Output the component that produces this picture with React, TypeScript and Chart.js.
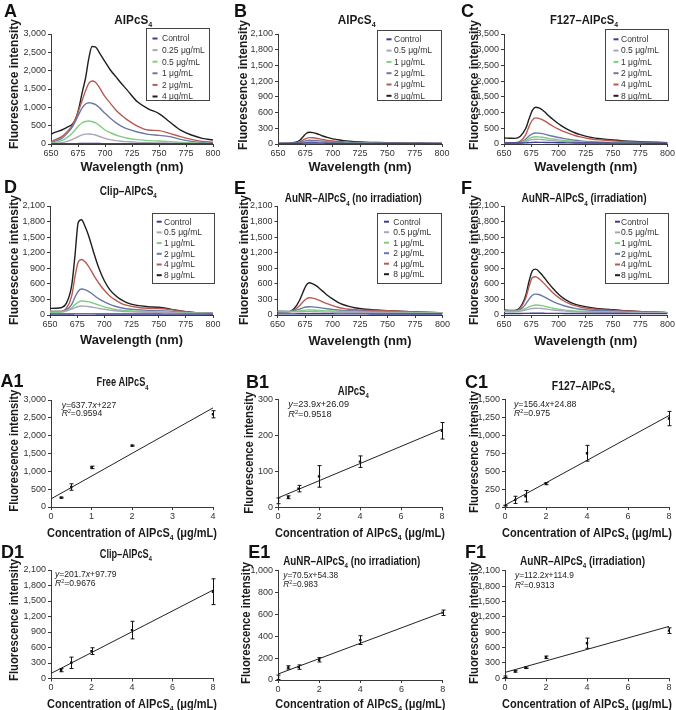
import React, { useEffect, useRef } from 'react';
import { Chart, registerables } from 'chart.js';

Chart.register(...registerables);

const PAGE_W = 676;
const PAGE_H = 710;
const FONT = '"Liberation Sans", Arial, Helvetica, sans-serif';
const NARROW = '"Liberation Sans Narrow", "Arial Narrow", "Liberation Sans", Arial, sans-serif';

// ---------------- Spectra (A–F) ----------------
const WAVELENGTH = [650, 655, 660, 665, 670, 673, 676, 679, 682, 685, 688, 691, 695, 700, 705, 710, 715, 720, 730, 740, 750, 760, 770, 780, 790, 800];

const LABELS_A = ['Control', '0.25 μg/mL', '0.5 μg/mL', '1 μg/mL', '2 μg/mL', '4 μg/mL'];
const LABELS_BF = ['Control', '0.5 μg/mL', '1 μg/mL', '2 μg/mL', '4 μg/mL', '8 μg/mL'];
const SERIES_COLORS = ['#3b3f8f', '#a9a5bb', '#7fcf7f', '#6b78a6', '#b95a50', '#1e1e1e'];

const A_CONTROL = [10, 10, 10, 10, 11, 11, 12, 12, 12, 12, 12, 12, 12, 11, 11, 11, 10, 10, 10, 10, 10, 10, 10, 10, 10, 10];
const A_025 = [9, 20, 36, 73, 127, 170, 215, 250, 268, 273, 262, 245, 205, 155, 118, 91, 75, 64, 45, 36, 30, 25, 20, 15, 10, 5];
const A_05 = [18, 50, 91, 182, 309, 410, 510, 580, 615, 627, 610, 580, 500, 382, 309, 245, 200, 164, 118, 91, 82, 64, 45, 27, 18, 9];
const A_1 = [36, 90, 155, 290, 473, 640, 830, 990, 1090, 1127, 1110, 1080, 985, 836, 700, 582, 490, 418, 327, 264, 236, 200, 127, 73, 36, 18];
const A_2 = [64, 130, 200, 336, 518, 700, 950, 1200, 1450, 1655, 1718, 1690, 1530, 1290, 1109, 927, 790, 672, 490, 382, 364, 290, 200, 127, 73, 45];
const A_4 = [273, 330, 382, 460, 545, 700, 1000, 1420, 1800, 2336, 2660, 2650, 2480, 2245, 2018, 1836, 1655, 1490, 1150, 960, 830, 600, 380, 245, 155, 110];

const B_CONTROL = [12, 12, 12, 13, 14, 16, 18, 19, 19, 18, 17, 16, 15, 14, 13, 13, 12, 12, 11, 11, 10, 10, 10, 9, 9, 9];
const B_05 = [6, 7, 8, 10, 14, 20, 27, 30, 29, 28, 26, 24, 22, 19, 17, 15, 14, 13, 11, 10, 9, 8, 8, 7, 7, 6];
const B_1 = [7, 8, 9, 12, 19, 29, 39, 44, 43, 41, 38, 34, 30, 26, 23, 20, 18, 16, 14, 12, 11, 10, 9, 8, 8, 7];
const B_2 = [8, 9, 10, 15, 27, 45, 63, 72, 70, 66, 60, 53, 45, 38, 32, 28, 24, 22, 18, 15, 13, 12, 11, 10, 9, 8];
const B_4 = [8, 10, 12, 20, 42, 75, 108, 122, 118, 110, 98, 85, 70, 57, 48, 40, 34, 30, 24, 20, 17, 15, 13, 11, 10, 9];
const B_8 = [10, 12, 15, 28, 72, 140, 205, 225, 218, 200, 178, 153, 125, 98, 80, 65, 54, 46, 35, 28, 23, 19, 16, 13, 11, 10];

const C_CONTROL = [30, 30, 30, 32, 37, 44, 50, 54, 53, 51, 49, 46, 43, 40, 38, 36, 34, 33, 31, 30, 29, 28, 27, 26, 25, 25];
const C_05 = [10, 10, 15, 32, 70, 112, 140, 150, 148, 142, 132, 119, 103, 87, 74, 62, 52, 45, 35, 28, 24, 20, 17, 15, 13, 12];
const C_1 = [15, 15, 22, 45, 105, 170, 215, 230, 226, 216, 200, 180, 157, 133, 112, 95, 80, 68, 52, 42, 36, 30, 26, 22, 20, 18];
const C_2 = [20, 20, 28, 60, 155, 255, 325, 350, 345, 330, 307, 278, 245, 207, 175, 145, 120, 100, 75, 60, 50, 42, 36, 32, 28, 25];
const C_4 = [30, 30, 38, 95, 300, 560, 760, 830, 815, 775, 718, 650, 565, 470, 395, 328, 270, 225, 160, 125, 100, 80, 65, 55, 45, 40];
const C_8 = [190, 185, 180, 250, 500, 800, 1070, 1170, 1150, 1090, 1000, 900, 780, 645, 530, 435, 358, 300, 210, 160, 125, 100, 80, 65, 55, 45];

const D_CONTROL = [18, 18, 18, 19, 20, 21, 22, 22, 22, 22, 21, 21, 20, 20, 20, 19, 19, 18, 18, 18, 18, 17, 17, 17, 17, 17];
const D_05 = [80, 78, 75, 85, 112, 142, 164, 173, 170, 164, 154, 142, 126, 110, 95, 82, 72, 65, 55, 50, 47, 44, 40, 36, 33, 30];
const D_1 = [50, 52, 55, 77, 138, 200, 248, 270, 266, 257, 240, 219, 190, 157, 130, 108, 92, 82, 70, 65, 60, 55, 48, 40, 35, 30];
const D_2 = [55, 57, 60, 95, 205, 345, 458, 500, 490, 460, 420, 370, 312, 253, 205, 168, 140, 120, 100, 90, 85, 75, 60, 45, 35, 28];
const D_4 = [64, 66, 70, 125, 370, 740, 1020, 1070, 1030, 950, 850, 740, 612, 476, 368, 290, 230, 190, 150, 130, 125, 105, 75, 50, 38, 30];
const D_8 = [128, 130, 140, 224, 577, 1150, 1780, 1835, 1720, 1560, 1360, 1150, 900, 660, 490, 380, 300, 245, 185, 160, 148, 118, 80, 52, 38, 32];

const E_CONTROL = [22, 22, 22, 22, 23, 24, 25, 25, 25, 25, 24, 24, 23, 23, 22, 22, 22, 21, 21, 20, 20, 20, 19, 19, 19, 18];
const E_05 = [65, 62, 60, 60, 62, 64, 65, 65, 64, 62, 60, 58, 56, 54, 52, 50, 48, 46, 44, 42, 40, 38, 37, 36, 35, 34];
const E_1 = [70, 68, 66, 69, 79, 88, 94, 96, 95, 92, 88, 84, 80, 76, 72, 68, 64, 61, 57, 54, 51, 49, 46, 44, 42, 40];
const E_2 = [75, 72, 70, 82, 112, 136, 154, 160, 157, 151, 142, 132, 120, 107, 96, 88, 82, 78, 72, 68, 65, 60, 55, 50, 45, 40];
const E_4 = [70, 65, 65, 95, 180, 250, 308, 333, 325, 306, 282, 254, 220, 182, 150, 127, 112, 102, 92, 86, 82, 75, 65, 55, 48, 42];
const E_8 = [60, 55, 60, 120, 280, 430, 570, 620, 600, 565, 515, 460, 385, 310, 245, 198, 165, 140, 110, 95, 85, 75, 65, 55, 48, 42];

const F_CONTROL = [30, 30, 30, 30, 31, 32, 33, 33, 33, 33, 32, 32, 31, 31, 30, 30, 30, 29, 29, 28, 28, 28, 27, 27, 27, 26];
const F_05 = [70, 68, 68, 75, 97, 114, 125, 130, 128, 124, 116, 108, 97, 88, 80, 72, 66, 62, 56, 52, 49, 46, 44, 42, 40, 38];
const F_1 = [75, 72, 72, 86, 125, 158, 182, 192, 189, 180, 165, 150, 131, 112, 98, 86, 78, 72, 64, 60, 56, 52, 48, 45, 42, 40];
const F_2 = [80, 75, 75, 102, 210, 305, 380, 403, 395, 370, 336, 300, 257, 213, 179, 150, 128, 112, 92, 82, 76, 70, 63, 56, 50, 44];
const F_4 = [85, 80, 80, 130, 330, 550, 720, 737, 700, 645, 580, 510, 425, 340, 270, 220, 180, 155, 120, 100, 90, 80, 70, 60, 52, 45];
const F_8 = [95, 90, 90, 150, 380, 650, 850, 884, 840, 770, 690, 610, 510, 400, 315, 255, 210, 180, 140, 115, 100, 85, 72, 60, 52, 45];

// ---------------- Calibration (A1–F1) ----------------
const A1_CONC = [0.25, 0.5, 1, 2, 4];
const A1_MEAN = [262, 560, 1110, 1720, 2600];
const A1_ERR = [15, 90, 35, 15, 100];
const A1_FIT_X = [0, 4];
const A1_FIT_Y = [227, 2778];
const A1_EQ = ['637.7', '227', '0.9594'];

const B1_CONC = [0, 0.5, 1, 2, 4, 8];
const B1_MEAN = [18, 28, 52, 86, 127, 213];
const B1_ERR = [8, 4, 9, 30, 16, 23];
const B1_FIT_X = [0, 8];
const B1_FIT_Y = [26.09, 217.3];
const B1_EQ = ['23.9', '26.09', '0.9518'];

const C1_CONC = [0, 0.5, 1, 2, 4, 8];
const C1_MEAN = [20, 100, 150, 326, 750, 1234];
const C1_ERR = [6, 50, 80, 15, 110, 100];
const C1_FIT_X = [0, 8];
const C1_FIT_Y = [24.88, 1276];
const C1_EQ = ['156.4', '24.88', '0.975'];

const D1_CONC = [0.5, 1, 2, 4, 8];
const D1_MEAN = [161, 304, 530, 937, 1680];
const D1_ERR = [30, 110, 65, 170, 250];
const D1_FIT_X = [0, 8];
const D1_FIT_Y = [97.79, 1711];
const D1_EQ = ['201.7', '97.79', '0.9676'];

const E1_CONC = [0, 0.5, 1, 2, 4, 8];
const E1_MEAN = [25, 115, 118, 185, 365, 615];
const E1_ERR = [20, 15, 20, 20, 40, 25];
const E1_FIT_X = [0, 8];
const E1_FIT_Y = [54.38, 618.4];
const E1_EQ = ['70.5', '54.38', '0.983'];

const F1_CONC = [0, 0.5, 1, 2, 4, 8];
const F1_MEAN = [30, 135, 205, 410, 685, 930];
const F1_ERR = [15, 15, 15, 25, 100, 55];
const F1_FIT_X = [0, 8];
const F1_FIT_Y = [114.9, 1012.5];
const F1_EQ = ['112.2', '114.9', '0.9313'];

// ---------------- text helpers ----------------
interface Seg { t: string; sub?: boolean; sup?: boolean; it?: boolean }

const withSub4 = (pre: string, post = ''): Seg[] => {
  const s: Seg[] = [{ t: pre }, { t: '4', sub: true }];
  if (post) s.push({ t: post });
  return s;
};

const T_ALPCS4 = withSub4('AlPcS');
const T_FREE = withSub4('Free AlPcS');
const T_F127 = withSub4('F127–AlPcS');
const T_CLIP = withSub4('Clip–AlPcS');
const T_AUNR_NO = withSub4('AuNR–AlPcS', ' (no irradiation)');
const T_AUNR_IR = withSub4('AuNR–AlPcS', ' (irradiation)');
const X_TITLE_SPEC: Seg[] = [{ t: 'Wavelength (nm)' }];
const X_TITLE_CAL = withSub4('Concentration of AlPcS', ' (μg/mL)');
const Y_TITLE: Seg[] = [{ t: 'Fluorescence intensity' }];

function drawRich(
  ctx: CanvasRenderingContext2D,
  segs: Seg[],
  x: number,
  y: number,
  o: { size: number; bold?: boolean; align?: 'left' | 'center'; fit?: number; rotate?: boolean; color?: string }
) {
  const size = o.size;
  const weight = o.bold ? 'bold ' : '';
  const fontOf = (s: Seg) => `${s.it ? 'italic ' : ''}${weight}${s.sub || s.sup ? size * 0.62 : size}px ${FONT}`;
  ctx.save();
  const widths = segs.map((s) => {
    ctx.font = fontOf(s);
    return ctx.measureText(s.t).width;
  });
  const total = widths.reduce((a, b) => a + b, 0);
  const sx = o.fit ? o.fit / total : 1;
  ctx.translate(x, y);
  if (o.rotate) ctx.rotate(-Math.PI / 2);
  ctx.scale(sx, 1);
  ctx.fillStyle = o.color || '#1a1a1a';
  ctx.textAlign = 'left';
  ctx.textBaseline = 'alphabetic';
  let cx = o.align === 'center' ? -total / 2 : 0;
  const base = size * 0.36;
  segs.forEach((s, i) => {
    ctx.font = fontOf(s);
    const dy = s.sub ? size * 0.24 : s.sup ? -size * 0.36 : 0;
    ctx.fillText(s.t, cx, base + dy);
    cx += widths[i];
  });
  ctx.restore();
}

// ---------------- panel definitions ----------------
interface Common {
  letter: string; letterXY: [number, number];
  title: Seg[]; titleXY: [number, number]; titleFit: number;
  area: [number, number, number, number];
  yMax: number; yStep: number;
  yTitleXY: [number, number]; yTitleFit: number;
  xTitleY: number; xTitleFit: number;
}
interface SpecPanel extends Common {
  kind: 'spec';
  labels: string[]; series: number[][];
  legend: { box: [number, number, number, number]; markX: number; textX: number; row0: number; step: number };
}
interface CalPanel extends Common {
  kind: 'cal';
  xMax: number; xStep: number;
  conc: number[]; mean: number[]; err: number[]; fitX: number[]; fitY: number[]; eq: string[];
  eqXY: [number, number]; rXY: [number, number]; eqSize: number;
}
type Panel = SpecPanel | CalPanel;

const PANELS: Panel[] = [
  {
    kind: 'spec', letter: 'A', letterXY: [4, 16.5], title: T_ALPCS4, titleXY: [133.3, 19], titleFit: 38,
    area: [51, 34, 213, 144], yMax: 3000, yStep: 500, yTitleXY: [13, 84], yTitleFit: 130, xTitleY: 166, xTitleFit: 103,
    labels: LABELS_A, series: [A_CONTROL, A_025, A_05, A_1, A_2, A_4],
    legend: { box: [146, 28, 63, 72], markX: 152.5, textX: 162, row0: 38.5, step: 11.6 },
  },
  {
    kind: 'spec', letter: 'B', letterXY: [234, 16.5], title: T_ALPCS4, titleXY: [356.7, 19], titleFit: 38,
    area: [278, 34, 442, 144], yMax: 2100, yStep: 300, yTitleXY: [242.7, 85], yTitleFit: 130, xTitleY: 166, xTitleFit: 103,
    labels: LABELS_BF, series: [B_CONTROL, B_05, B_1, B_2, B_4, B_8],
    legend: { box: [377, 30, 64, 70], markX: 386.5, textX: 394, row0: 39.3, step: 11.3 },
  },
  {
    kind: 'spec', letter: 'C', letterXY: [461, 16.5], title: T_F127, titleXY: [584, 19], titleFit: 68,
    area: [504, 34, 668, 144], yMax: 3500, yStep: 500, yTitleXY: [473, 85], yTitleFit: 130, xTitleY: 166, xTitleFit: 103,
    labels: LABELS_BF, series: [C_CONTROL, C_05, C_1, C_2, C_4, C_8],
    legend: { box: [605, 29.3, 63, 70.7], markX: 613.5, textX: 621, row0: 39.3, step: 11.3 },
  },
  {
    kind: 'spec', letter: 'D', letterXY: [4, 193.3], title: T_CLIP, titleXY: [128.3, 190], titleFit: 57,
    area: [50, 206, 213, 315], yMax: 2100, yStep: 300, yTitleXY: [13.3, 260], yTitleFit: 130, xTitleY: 339, xTitleFit: 103,
    labels: LABELS_BF, series: [D_CONTROL, D_05, D_1, D_2, D_4, D_8],
    legend: { box: [151.7, 213.3, 61.6, 70], markX: 156.7, textX: 164, row0: 221.7, step: 10.7 },
  },
  {
    kind: 'spec', letter: 'E', letterXY: [234, 194.3], title: T_AUNR_NO, titleXY: [353.3, 197.7], titleFit: 137,
    area: [277.5, 206, 442.5, 315], yMax: 2100, yStep: 300, yTitleXY: [243, 260], yTitleFit: 130, xTitleY: 340, xTitleFit: 103,
    labels: LABELS_BF, series: [E_CONTROL, E_05, E_1, E_2, E_4, E_8],
    legend: { box: [376.7, 213.3, 64, 70], markX: 384, textX: 393.3, row0: 221.7, step: 10.5 },
  },
  {
    kind: 'spec', letter: 'F', letterXY: [461, 194], title: T_AUNR_IR, titleXY: [584, 197.7], titleFit: 125,
    area: [504, 206, 668, 315], yMax: 2100, yStep: 300, yTitleXY: [473, 260], yTitleFit: 130, xTitleY: 340, xTitleFit: 103,
    labels: LABELS_BF, series: [F_CONTROL, F_05, F_1, F_2, F_4, F_8],
    legend: { box: [605, 213.3, 63.3, 70], markX: 615, textX: 621, row0: 221.7, step: 10.7 },
  },
  {
    kind: 'cal', letter: 'A1', letterXY: [0.5, 387.3], title: T_FREE, titleXY: [122.5, 381.7], titleFit: 52,
    area: [51, 400, 213, 507], yMax: 3000, yStep: 500, yTitleXY: [13.3, 450.7], yTitleFit: 122, xTitleY: 532.3, xTitleFit: 170,
    xMax: 4, xStep: 1, conc: A1_CONC, mean: A1_MEAN, err: A1_ERR, fitX: A1_FIT_X, fitY: A1_FIT_Y, eq: A1_EQ,
    eqXY: [61.7, 405], rXY: [61.7, 413.3], eqSize: 8.6,
  },
  {
    kind: 'cal', letter: 'B1', letterXY: [246, 388.3], title: T_ALPCS4, titleXY: [353.3, 390], titleFit: 31,
    area: [278, 399.5, 442, 507.3], yMax: 300, yStep: 100, yTitleXY: [248.3, 452.7], yTitleFit: 122, xTitleY: 532.3, xTitleFit: 170,
    xMax: 8, xStep: 2, conc: B1_CONC, mean: B1_MEAN, err: B1_ERR, fitX: B1_FIT_X, fitY: B1_FIT_Y, eq: B1_EQ,
    eqXY: [288.3, 404], rXY: [288.3, 414], eqSize: 9.2,
  },
  {
    kind: 'cal', letter: 'C1', letterXY: [465, 388], title: T_F127, titleXY: [583.3, 385], titleFit: 63,
    area: [505, 399.5, 669, 507], yMax: 1500, yStep: 250, yTitleXY: [473.3, 452], yTitleFit: 122, xTitleY: 532.3, xTitleFit: 170,
    xMax: 8, xStep: 2, conc: C1_CONC, mean: C1_MEAN, err: C1_ERR, fitX: C1_FIT_X, fitY: C1_FIT_Y, eq: C1_EQ,
    eqXY: [514, 404.3], rXY: [514, 413.3], eqSize: 8.7,
  },
  {
    kind: 'cal', letter: 'D1', letterXY: [1, 558.3], title: T_CLIP, titleXY: [125.8, 553], titleFit: 52,
    area: [51, 570, 213, 678.5], yMax: 2100, yStep: 300, yTitleXY: [13.3, 620], yTitleFit: 122, xTitleY: 703.3, xTitleFit: 170,
    xMax: 8, xStep: 2, conc: D1_CONC, mean: D1_MEAN, err: D1_ERR, fitX: D1_FIT_X, fitY: D1_FIT_Y, eq: D1_EQ,
    eqXY: [55, 574.3], rXY: [55, 583.3], eqSize: 8.6,
  },
  {
    kind: 'cal', letter: 'E1', letterXY: [248.3, 558.3], title: T_AUNR_NO, titleXY: [351.7, 560], titleFit: 137,
    area: [278, 570.7, 442.7, 680], yMax: 1000, yStep: 200, yTitleXY: [245, 623], yTitleFit: 122, xTitleY: 703.3, xTitleFit: 170,
    xMax: 8, xStep: 2, conc: E1_CONC, mean: E1_MEAN, err: E1_ERR, fitX: E1_FIT_X, fitY: E1_FIT_Y, eq: E1_EQ,
    eqXY: [283.3, 575], rXY: [283.3, 584.3], eqSize: 8.3,
  },
  {
    kind: 'cal', letter: 'F1', letterXY: [465, 558.3], title: T_AUNR_IR, titleXY: [582.5, 560], titleFit: 125,
    area: [505, 570.7, 669, 678.3], yMax: 2100, yStep: 300, yTitleXY: [473, 623], yTitleFit: 122, xTitleY: 703.3, xTitleFit: 170,
    xMax: 8, xStep: 2, conc: F1_CONC, mean: F1_MEAN, err: F1_ERR, fitX: F1_FIT_X, fitY: F1_FIT_Y, eq: F1_EQ,
    eqXY: [515, 575], rXY: [515, 585], eqSize: 8.4,
  },
];

// ---------------- chart config ----------------
const YW = 32;
const XH = 14;
const AXIS_COLOR = '#3a3a3a';
const TICK_COLOR = '#333';

function buildConfig(p: Panel): any {
  const [l, t, r, b] = p.area;
  const isSpec = p.kind === 'spec';

  const datasets: any[] = isSpec
    ? (p as SpecPanel).series.map((vals, i) => ({
        type: 'line',
        label: (p as SpecPanel).labels[i],
        data: WAVELENGTH.map((w, j) => ({ x: w, y: vals[j] })),
        borderColor: SERIES_COLORS[i],
        backgroundColor: SERIES_COLORS[i],
        borderWidth: 1.4,
        pointRadius: 0,
        cubicInterpolationMode: 'monotone',
        fill: false,
      }))
    : [
        {
          type: 'scatter',
          label: 'mean',
          data: (p as CalPanel).conc.map((c, j) => ({ x: c, y: (p as CalPanel).mean[j] })),
          errorBars: (p as CalPanel).err,
          pointStyle: 'rect',
          pointRadius: 1.7,
          backgroundColor: '#111',
          borderColor: '#111',
          borderWidth: 0,
        },
        {
          type: 'line',
          label: 'fit',
          data: (p as CalPanel).fitX.map((x, j) => ({ x, y: (p as CalPanel).fitY[j] })),
          borderColor: '#222',
          borderWidth: 1,
          pointRadius: 0,
          fill: false,
        },
      ];

  const fmt = (v: any) => Number(v).toLocaleString('en-US');

  const deco = {
    id: 'deco',
    afterDatasetsDraw(chart: any) {
      if (isSpec) return;
      const ctx = chart.ctx as CanvasRenderingContext2D;
      const xs = chart.scales.x;
      const ys = chart.scales.y;
      const cp = p as CalPanel;
      ctx.save();
      ctx.strokeStyle = '#111';
      ctx.lineWidth = 1;
      cp.conc.forEach((c, j) => {
        const e = cp.err[j];
        if (!e) return;
        const px = Math.round(xs.getPixelForValue(c)) + 0.5;
        const y1 = ys.getPixelForValue(cp.mean[j] + e);
        const y2 = ys.getPixelForValue(Math.max(0, cp.mean[j] - e));
        ctx.beginPath();
        ctx.moveTo(px, y1);
        ctx.lineTo(px, y2);
        ctx.moveTo(px - 2, y1);
        ctx.lineTo(px + 2, y1);
        ctx.moveTo(px - 2, y2);
        ctx.lineTo(px + 2, y2);
        ctx.stroke();
      });
      ctx.restore();
    },
    afterDraw(chart: any) {
      const ctx = chart.ctx as CanvasRenderingContext2D;
      const ca = chart.chartArea;
      // panel letter
      ctx.save();
      ctx.fillStyle = '#111';
      ctx.font = `bold 18px ${FONT}`;
      ctx.textAlign = 'left';
      ctx.textBaseline = 'alphabetic';
      ctx.fillText(p.letter, p.letterXY[0], p.letterXY[1]);
      ctx.restore();
      // title
      drawRich(ctx, p.title, p.titleXY[0], p.titleXY[1], { size: 13, bold: true, align: 'center', fit: p.titleFit });
      // axis titles
      drawRich(ctx, isSpec ? X_TITLE_SPEC : X_TITLE_CAL, (ca.left + ca.right) / 2, p.xTitleY, {
        size: 13, bold: true, align: 'center', fit: p.xTitleFit,
      });
      drawRich(ctx, Y_TITLE, p.yTitleXY[0], p.yTitleXY[1], { size: 12.5, bold: true, align: 'center', fit: p.yTitleFit, rotate: true });

      if (isSpec) {
        const sp = p as SpecPanel;
        const lg = sp.legend;
        ctx.save();
        ctx.strokeStyle = '#444';
        ctx.lineWidth = 1;
        ctx.strokeRect(Math.round(lg.box[0]) + 0.5, Math.round(lg.box[1]) + 0.5, Math.round(lg.box[2]), Math.round(lg.box[3]));
        chart.data.datasets.forEach((ds: any, i: number) => {
          const yy = lg.row0 + i * lg.step;
          ctx.strokeStyle = ds.borderColor;
          ctx.lineWidth = 2;
          ctx.beginPath();
          ctx.moveTo(lg.markX, yy);
          ctx.lineTo(lg.markX + 5, yy);
          ctx.stroke();
          ctx.fillStyle = '#333';
          ctx.font = `8.5px ${FONT}`;
          ctx.textAlign = 'left';
          ctx.textBaseline = 'middle';
          ctx.fillText(ds.label, lg.textX, yy + 0.5);
        });
        ctx.restore();
      } else {
        const cp = p as CalPanel;
        drawRich(ctx, [{ t: 'y', it: true }, { t: '=' + cp.eq[0] }, { t: 'x', it: true }, { t: '+' + cp.eq[1] }], cp.eqXY[0], cp.eqXY[1], {
          size: cp.eqSize, align: 'left', color: '#222',
        });
        drawRich(ctx, [{ t: 'R', it: true }, { t: '2', sup: true }, { t: '=' + cp.eq[2] }], cp.rXY[0], cp.rXY[1], {
          size: cp.eqSize, align: 'left', color: '#222',
        });
      }
    },
  };

  const xMin = isSpec ? 650 : 0;
  const xMax = isSpec ? 800 : (p as CalPanel).xMax;
  const xStep = isSpec ? 25 : (p as CalPanel).xStep;

  return {
    type: isSpec ? 'line' : 'scatter',
    data: { datasets },
    plugins: [deco],
    options: {
      responsive: false,
      maintainAspectRatio: false,
      animation: false,
      devicePixelRatio: 1,
      events: [],
      layout: {
        padding: { left: l - YW, top: t, right: PAGE_W - r, bottom: PAGE_H - b - XH },
      },
      plugins: { legend: { display: false }, tooltip: { enabled: false }, title: { display: false } },
      scales: {
        x: {
          type: 'linear',
          min: xMin,
          max: xMax,
          afterFit: (s: any) => { s.height = XH; },
          ticks: { stepSize: xStep, autoSkip: false, maxRotation: 0, padding: 1, color: TICK_COLOR, font: { size: 9, family: FONT } },
          grid: { drawOnChartArea: false, drawTicks: true, tickLength: 3, color: AXIS_COLOR, lineWidth: 1 },
          border: { display: true, color: AXIS_COLOR, width: 1 },
        },
        y: {
          type: 'linear',
          min: 0,
          max: p.yMax,
          afterFit: (s: any) => { s.width = YW; },
          ticks: { stepSize: p.yStep, autoSkip: false, padding: 2, color: TICK_COLOR, font: { size: 9, family: NARROW }, callback: fmt },
          grid: { drawOnChartArea: false, drawTicks: true, tickLength: 3, color: AXIS_COLOR, lineWidth: 1 },
          border: { display: true, color: AXIS_COLOR, width: 1 },
        },
      },
    },
  };
}

function PanelChart({ panel }: { panel: Panel }) {
  const ref = useRef<HTMLCanvasElement>(null);
  useEffect(() => {
    if (!ref.current) return;
    const chart = new Chart(ref.current, buildConfig(panel));
    return () => chart.destroy();
  }, [panel]);
  return (
    <canvas
      ref={ref}
      width={PAGE_W}
      height={PAGE_H}
      style={{ position: 'absolute', left: 0, top: 0, width: PAGE_W, height: PAGE_H }}
    />
  );
}

export default function App() {
  return (
    <div style={{ position: 'absolute', left: 0, top: 0, width: PAGE_W, height: PAGE_H, background: '#fff', overflow: 'hidden' }}>
      {PANELS.map((p) => (
        <PanelChart key={p.letter} panel={p} />
      ))}
    </div>
  );
}
